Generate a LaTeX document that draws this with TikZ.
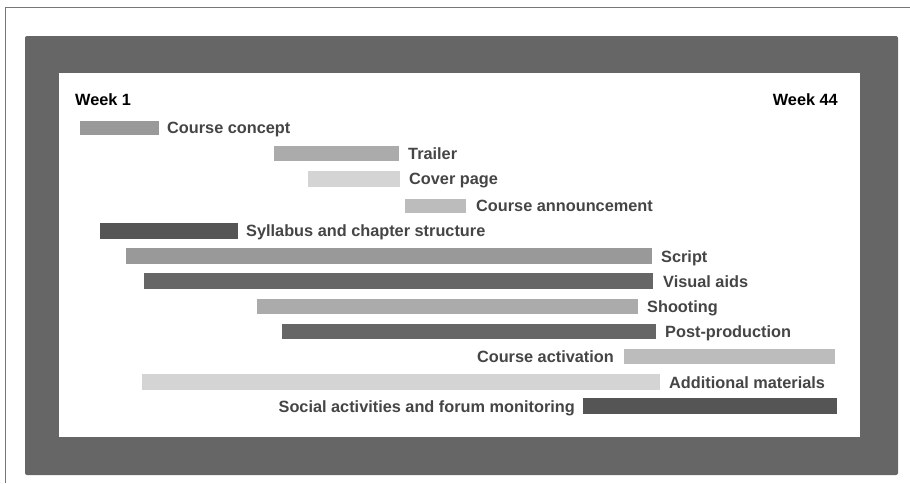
\documentclass[tikz,border=0pt]{standalone}
\usepackage{fontspec}
\setmainfont{Liberation Sans}
\usetikzlibrary{positioning}
\definecolor{framegray}{HTML}{666666}
\definecolor{edgegray}{HTML}{777777}
\definecolor{labelgray}{HTML}{454545}
\definecolor{barlight}{HTML}{D4D4D4}
\definecolor{barpale}{HTML}{BCBCBC}
\definecolor{barmid}{HTML}{ABABAB}
\definecolor{barmedium}{HTML}{999999}
\definecolor{bardark}{HTML}{666666}
\definecolor{bardarkest}{HTML}{555555}
\tikzset{
  task/.style={font=\bfseries\fontsize{16.3}{19}\selectfont, text=labelgray, inner sep=0pt, anchor=base west},
  week/.style={font=\bfseries\fontsize{16.3}{19}\selectfont, text=black, inner sep=0pt},
  bar/.style={draw=none}
}
\begin{document}
\begin{tikzpicture}[x=1pt, y=-1pt]
                \useasboundingbox (0,0) rectangle (910,483);
                % frame
                \draw [edgegray, line width=1pt] (5,483) -- (5,7) -- (910,7);
                \fill [framegray, rounded corners=2pt] (25,36) rectangle (898,475);
                \fill [white] (59,73) rectangle (860,437);

                \node (week1) [week, anchor=base west] at (75,105) {Week 1};
                \node (week44) [week, anchor=base east] at (838,105) {Week 44};

                % bars
                \fill [bar, barmedium] (80,121) rectangle (159,135);
                \fill [bar, barmid] (274,146) rectangle (399,161);
                \fill [bar, barlight] (308,171) rectangle (400,187);
                \fill [bar, barpale] (405,199) rectangle (466,213);
                \fill [bar, bardarkest] (100,223) rectangle (238,239);
                \fill [bar, barmedium] (126,248) rectangle (652,264);
                \fill [bar, bardark] (144,273) rectangle (653,289);
                \fill [bar, barmid] (257,299) rectangle (638,314);
                \fill [bar, bardark] (282,324) rectangle (656,339);
                \fill [bar, barpale] (624,349) rectangle (835,364);
                \fill [bar, barlight] (142,374) rectangle (660,390);
                \fill [bar, bardarkest] (583,398) rectangle (837,414);

                % labels
                \node (concept) [task] at (167,133) {Course concept};
                \node (trailer) [task] at (408,159) {Trailer};
                \node (cover) [task] at (409,184.5) {Cover page};
                \node (announce) [task] at (476,211.5) {Course announcement};
                \node (syllabus) [task] at (246,236.5) {Syllabus and chapter structure};
                \node (script) [task] at (661,262.5) {Script};
                \node (visual) [task] at (663,287) {Visual aids};
                \node (shooting) [task] at (647,312.5) {Shooting};
                \node (postprod) [task] at (665,337) {Post-production};
                \node (activation) [task, anchor=base east] at (614,362.5) {Course activation};
                \node (additional) [task] at (669,388) {Additional materials};
                \node (social) [task, anchor=base east] at (575,412) {Social activities and forum monitoring};
            \end{tikzpicture}
\end{document}
